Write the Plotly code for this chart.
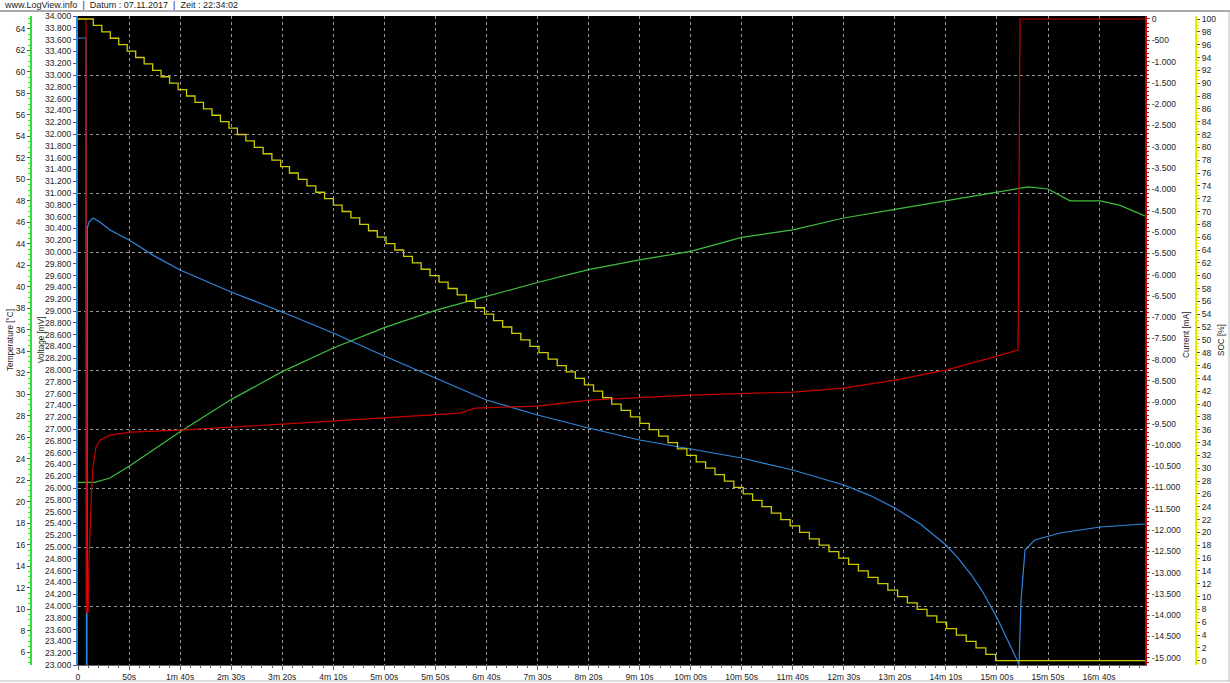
import plotly.graph_objects as go

W, H = 1230, 683

# ---------------- data ----------------
x_tick_vals = list(range(0, 1001, 50))
x_tick_text = ["0", "50s", "1m 40s", "2m 30s", "3m 20s", "4m 10s", "5m 00s", "5m 50s",
               "6m 40s", "7m 30s", "8m 20s", "9m 10s", "10m 00s", "10m 50s", "11m 40s",
               "12m 30s", "13m 20s", "14m 10s", "15m 00s", "15m 50s", "16m 40s"]

voltage_t = [0, 7.8, 8.3, 8.8, 9.1, 10.8, 14.7, 21.5, 31.3, 50, 75, 100, 150, 200, 250, 300,
             350, 400, 450, 500, 550, 600, 650, 700, 750, 775, 800, 825, 850, 862, 875, 885,
             893, 901, 908, 915, 920.7, 921.6, 922.4, 923.6, 927.5, 937, 961.8, 1001, 1045]
voltage_mv = [33627, 33627, 23000, 23000, 30407, 30508, 30576, 30508, 30373, 30203, 29930,
              29695, 29322, 28983, 28627, 28237, 27864, 27491, 27237, 27017, 26813, 26661,
              26508, 26305, 26051, 25880, 25661, 25389, 25034, 24813, 24525, 24270, 24016,
              23770, 23508, 23270, 23051, 23000, 23650, 24101, 24949, 25118, 25237, 25339,
              25390]

temp_t = [0, 16.6, 31.3, 50, 100, 150, 200, 250, 300, 350, 400, 450, 500, 550, 600, 650,
          700, 750, 800, 850, 903, 930.5, 950, 971.6, 1001, 1020, 1045]
temp_c = [21.8, 21.8, 22.2, 23.3, 26.5, 29.5, 32.1, 34.3, 36.2, 37.8, 39.1, 40.4, 41.6,
          42.5, 43.3, 44.6, 45.3, 46.4, 47.2, 48.0, 48.9, 49.3, 49.1, 48.0, 48.0, 47.6, 46.6]

current_t = [0, 7.8, 8.3, 9.8, 10.8, 11.8, 13.4, 14.7, 17.6, 21.5, 31.3, 50.9, 100, 200,
             300, 374, 389, 450, 500, 600, 700, 750, 800, 850, 893, 920.7, 922.6, 1045]
current_ma = [0, 0, -13930, -13930, -12708, -11933, -10993, -10524, -10054, -9889, -9772,
              -9701, -9654, -9513, -9373, -9255, -9138, -9091, -8950, -8832, -8762, -8668,
              -8480, -8245, -7963, -7775, 0, 0]

# SOC: time (s) at which each 1 % step happens (100 -> 99, 99 -> 98, ... 1 -> 0)
soc_step_t = [15.0, 23.3, 31.6, 39.9, 48.2, 56.5, 64.8, 73.1, 81.4, 89.7,
              98.0, 106.3, 114.6, 122.9, 131.2, 139.5, 147.8, 156.1, 164.4, 172.7,
              181.3, 189.9, 198.5, 207.1, 215.7, 224.3, 232.9, 241.5, 250.1, 258.7,
              267.3, 275.9, 284.5, 293.1, 301.7, 310.3, 318.9, 327.5, 336.1, 344.7,
              353.6, 362.5, 371.4, 380.3, 389.2, 398.1, 407.0, 415.9, 424.8, 433.7,
              442.6, 451.5, 460.4, 469.3, 478.2, 487.1, 496.0, 504.9, 513.8, 522.7,
              531.9, 541.1, 550.3, 559.5, 568.7, 577.9, 587.1, 596.3, 605.5, 614.7,
              623.9, 633.1, 642.3, 651.5, 660.7, 669.9, 679.1, 688.3, 697.5, 706.7,
              716.3, 725.9, 735.5, 745.1, 754.7, 764.3, 773.9, 783.5, 793.1, 802.7,
              812.3, 821.9, 831.5, 841.1, 850.7, 860.3, 869.9, 879.5, 889.1, 898.7]
soc_levels = list(range(99, -1, -1))
soc_t = [0] + soc_step_t + [1045]
soc_pct = [100] + soc_levels + [0]

volt_tick_vals = list(range(23000, 34001, 200))
temp_tick_vals = list(range(6, 65, 2))
curr_tick_vals = list(range(-15000, 1, 500))
soc_tick_vals = list(range(0, 101, 2))


def dotted(v):
    s = f"{abs(v):,}".replace(",", ".")
    return ("-" if v < 0 else "") + s


volt_tick_text = [dotted(v) for v in volt_tick_vals]
curr_tick_text = [dotted(v) for v in curr_tick_vals]

# ---------------- styling ----------------
C_VOLT = "#2f86dc"
C_TEMP = "#3fbf3f"
C_CURR = "#c80000"
C_SOC = "#cccc00"
C_AX_TEMP = "#33e033"
C_AX_SOC = "#e8e800"
FAM = "Liberation Sans, Arial, sans-serif"
FONT = dict(family=FAM, size=8.6, color="#1e1e1e")
TFONT = dict(family=FAM, size=8.2, color="#1e1e1e")
GRID = "#9a9a9a"

x0, x1 = 78 / W, 1145 / W
y0, y1 = 1 - 665 / H, 1 - 16 / H

fig = go.Figure()
fig.add_trace(go.Scatter(x=voltage_t, y=voltage_mv, mode="lines", yaxis="y",
                         line=dict(color=C_VOLT, width=1.2), showlegend=False))
fig.add_trace(go.Scatter(x=temp_t, y=temp_c, mode="lines", yaxis="y2",
                         line=dict(color=C_TEMP, width=1.2), showlegend=False))
fig.add_trace(go.Scatter(x=current_t, y=current_ma, mode="lines", yaxis="y3",
                         line=dict(color=C_CURR, width=1.2), showlegend=False))
fig.add_trace(go.Scatter(x=soc_t, y=soc_pct, mode="lines", yaxis="y4", line_shape="hv",
                         line=dict(color=C_SOC, width=1.3), showlegend=False))

fig.update_layout(
    width=W, height=H, autosize=False,
    margin=dict(l=0, r=0, t=0, b=0, autoexpand=False),
    paper_bgcolor="white", plot_bgcolor="black",
    font=FONT, showlegend=False,
    xaxis=dict(domain=[x0, x1], range=[0, 1045], tickvals=x_tick_vals, ticktext=x_tick_text,
               ticks="outside", ticklen=4, tickcolor="#666", showgrid=True, gridcolor=GRID,
               griddash="dot", gridwidth=1, zeroline=False, showline=True, linecolor="#666",
               automargin=False,
               minor=dict(dtick=10, ticks="outside", ticklen=2, tickcolor="#666", showgrid=False),
               tickfont=FONT),
    yaxis=dict(domain=[y0, y1], range=[23000, 34000], side="left", anchor="x",
               tickvals=volt_tick_vals, ticktext=volt_tick_text, ticks="outside", ticklen=3,
               tickcolor="#555", showline=True, linecolor=C_VOLT, linewidth=2,
               showgrid=False, zeroline=False, tickfont=FONT, automargin=False,
               minor=dict(tickvals=list(range(24000, 34000, 1000)), ticks="", showgrid=True,
                          gridcolor=GRID, griddash="dot", gridwidth=1)),
    yaxis2=dict(overlaying="y", side="left", anchor="free", position=31 / W,
                range=[4.8, 65.2], tickvals=temp_tick_vals, ticks="outside", ticklen=3,
                tickcolor="#555", showline=True, linecolor=C_AX_TEMP, linewidth=2,
                showgrid=False, zeroline=False, tickfont=FONT, automargin=False,
                minor=dict(dtick=0.5, ticks="outside", ticklen=2, tickcolor=C_AX_TEMP)),
    yaxis3=dict(overlaying="y", side="right", anchor="x", range=[-15170, 70],
                tickvals=curr_tick_vals, ticktext=curr_tick_text, ticks="outside", ticklen=3,
                tickcolor="#555", showline=True, linecolor=C_CURR, linewidth=2,
                showgrid=False, zeroline=False, tickfont=FONT, automargin=False,
                minor=dict(dtick=100, ticks="outside", ticklen=2, tickcolor=C_CURR)),
    yaxis4=dict(overlaying="y", side="right", anchor="free", position=1196 / W,
                range=[-0.67, 100.47], tickvals=soc_tick_vals, ticks="outside", ticklen=3,
                tickcolor="#555", showline=True, linecolor=C_AX_SOC, linewidth=2,
                showgrid=False, zeroline=False, tickfont=FONT, automargin=False,
                minor=dict(dtick=0.5, ticks="outside", ticklen=2, tickcolor=C_AX_SOC)),
)

ann = [
    dict(text="Temperature [°C]", x=10 / W, y=1 - 340 / H, textangle=-90),
    dict(text="Voltage [mV]", x=41 / W, y=1 - 340 / H, textangle=-90),
    dict(text="Current [mA]", x=1186 / W, y=1 - 335 / H, textangle=-90),
    dict(text="SOC [%]", x=1221 / W, y=1 - 340 / H, textangle=-90),
]
for a in ann:
    fig.add_annotation(xref="paper", yref="paper", showarrow=False, xanchor="center",
                       yanchor="middle", font=TFONT, **a)

fig.add_annotation(xref="paper", yref="paper", x=2 / W, y=1 - 5 / H, xanchor="left",
                   yanchor="middle", showarrow=False,
                   text="www.LogView.info  |  Datum : 07.11.2017  |  Zeit : 22:34:02",
                   font=dict(family=FAM, size=9, color="#222"))

fig.add_shape(type="line", xref="paper", yref="paper", x0=0, x1=1, y0=1 - 11 / H, y1=1 - 11 / H,
              line=dict(color="#555", width=1))
fig.add_shape(type="line", xref="paper", yref="paper", x0=0, x1=1, y0=1 - 681 / H, y1=1 - 681 / H,
              line=dict(color="#bbb", width=1))
fig.add_shape(type="line", xref="paper", yref="paper", x0=1229 / W, x1=1229 / W, y0=1 - 681 / H,
              y1=1 - 11 / H, line=dict(color="#bbb", width=1))

fig.write_html("out.html", config={"displayModeBar": False},
               post_script="document.body.style.margin='0';document.body.style.overflow='hidden';")
